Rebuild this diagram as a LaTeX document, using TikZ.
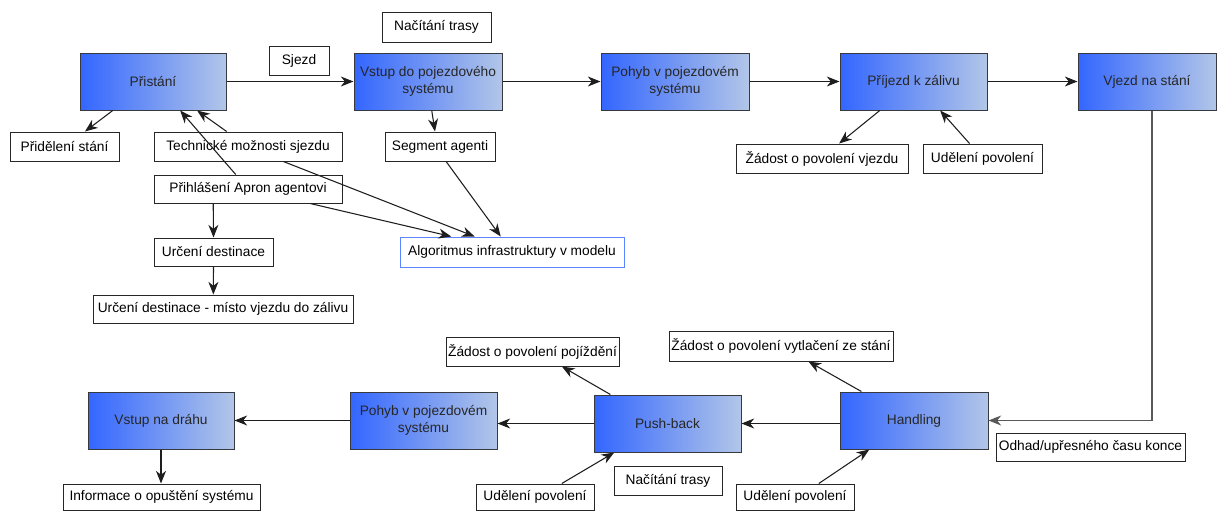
\documentclass[tikz,border=0pt]{standalone}
\usepackage{fontspec}
\setmainfont{Liberation Sans}
\usetikzlibrary{arrows.meta,calc}
\definecolor{bL}{RGB}{51,102,255}
\definecolor{bR}{RGB}{178,198,232}
\definecolor{bd}{RGB}{54,57,61}
\definecolor{ab}{RGB}{90,135,255}
\definecolor{ln}{RGB}{30,30,30}
\newcommand{\mkbox}[7]{%
  \pgfmathsetmacro\bw{(#5-#3)*0.75}%
  \pgfmathsetmacro\bh{(#6-#4)*0.75}%
  \node[#2, minimum width=\bw pt, minimum height=\bh pt] (#1) at ({(#3+#5)/2},{(#4+#6)/2}) {#7};%
}
\begin{document}
\begin{tikzpicture}[x=0.75pt,y=-0.75pt,
  font=\fontsize{10.3pt}{12.6pt}\selectfont,
  mainbox/.style={draw=bd, line width=0.75pt, left color=bL, right color=bR, text=black!85, align=center, inner sep=1pt},
  lbl/.style={draw=black!85, fill=white, line width=0.75pt, align=center, inner sep=1pt},
  algo/.style={draw=ab, fill=white, line width=0.75pt, inner sep=1pt},
  arr/.style={draw=ln, line width=0.8pt, -{Stealth[length=9.5pt,width=7.5pt,inset=3pt]}},
]
\useasboundingbox (0,0) rectangle (1217,511);

% top row
\mkbox{pr}{mainbox}{80}{53}{226}{110}{Přistání}
\mkbox{vs}{mainbox}{354}{53}{502}{110}{Vstup do pojezdového\\systému}
\mkbox{po}{mainbox}{601}{53}{749}{110}{Pohyb v pojezdovém\\systému}
\mkbox{pz}{mainbox}{840}{53}{987}{110}{Příjezd k zálivu}
\mkbox{vj}{mainbox}{1078}{53}{1216}{110}{Vjezd na stání}

% top labels
\mkbox{nt}{lbl}{382}{12}{491}{42}{Načítání trasy}
\mkbox{sj}{lbl}{269}{46}{329}{75}{Sjezd}
\mkbox{ps}{lbl}{10}{132}{119}{161}{Přidělení stání}
\mkbox{tm}{lbl}{154}{132}{342}{161}{Technické možnosti sjezdu}
\mkbox{pa}{lbl}{154}{175}{342}{203}{Přihlášení Apron agentovi}
\mkbox{ud}{lbl}{154}{238}{273}{266}{Určení destinace}
\mkbox{um}{lbl}{93}{295}{353}{323}{Určení destinace - místo vjezdu do zálivu}
\mkbox{sa}{lbl}{385}{132}{495}{161}{Segment agenti}
\mkbox{al}{algo}{400}{237}{624}{267}{Algoritmus infrastruktury v modelu}
\mkbox{zv}{lbl}{736}{144}{908}{173}{Žádost o povolení vjezdu}
\mkbox{up}{lbl}{923}{144}{1042}{173}{Udělení povolení}

% bottom row
\mkbox{vd}{mainbox}{88}{392}{234}{449}{Vstup na dráhu}
\mkbox{pb}{mainbox}{350}{392}{497}{449}{Pohyb v pojezdovém\\systému}
\mkbox{pu}{mainbox}{594}{395}{741}{452}{Push-back}
\mkbox{ha}{mainbox}{840}{392}{988}{449}{Handling}

% bottom labels
\mkbox{zj}{lbl}{446}{337}{619}{366}{Žádost o povolení pojíždění}
\mkbox{zs}{lbl}{669}{331}{893}{361}{Žádost o povolení vytlačení ze stání}
\mkbox{od}{lbl}{996}{433}{1185}{461}{Odhad/upřesného času konce}
\mkbox{nb}{lbl}{614}{466}{722}{495}{Načítání trasy}
\mkbox{ul}{lbl}{476}{484}{594}{510}{Udělení povolení}
\mkbox{ur}{lbl}{736}{484}{854}{510}{Udělení povolení}
\mkbox{io}{lbl}{63}{484}{260}{510}{Informace o opuštění systému}

% top arrows
\draw[arr] (pr.east) -- (vs.west);
\draw[arr] (vs.east) -- (po.west);
\draw[arr] (po.east) -- (pz.west);
\draw[arr] (pz.east) -- (vj.west);
\draw[arr] ($(pr.south west)!0.226!(pr.south east)$) -- ($(ps.north west)!0.686!(ps.north east)$);
\draw[arr] ($(tm.north west)!0.387!(tm.north east)$) -- ($(pr.south west)!0.8!(pr.south east)$);
\draw[arr] ($(pa.north west)!0.435!(pa.north east)$) -- ($(pr.south west)!0.685!(pr.south east)$);
\draw[arr] ($(pa.south west)!0.316!(pa.south east)$) -- (ud.north);
\draw[arr] (ud.south) -- ($(um.north west)!0.463!(um.north east)$);
\draw[arr] ($(tm.south west)!0.687!(tm.south east)$) -- ($(al.north west)!0.334!(al.north east)$);
\draw[arr] ($(pa.south west)!0.829!(pa.south east)$) -- ($(al.north west)!0.23!(al.north east)$);
\draw[arr] ($(sa.south west)!0.555!(sa.south east)$) -- ($(al.north west)!0.45!(al.north east)$);
\draw[arr] ($(vs.south west)!0.525!(vs.south east)$) -- ($(sa.north west)!0.455!(sa.north east)$);
\draw[arr] ($(pz.south west)!0.272!(pz.south east)$) -- ($(zv.north west)!0.599!(zv.north east)$);
\draw[arr] ($(up.north west)!0.392!(up.north east)$) -- ($(pz.south west)!0.68!(pz.south east)$);

% link down to handling
\draw[arr, draw=black!65] ($(vj.south west)!0.536!(vj.south east)$) |- (ha.east);

% bottom arrows
\draw[arr] (pu.east -| ha.west) -- (pu.east);
\draw[arr] (pu.west) -- (pu.west -| pb.east);
\draw[arr] (pb.west) -- (vd.east);
\draw[arr] (vd.south) -- (vd.south |- io.north);
\draw[arr] ($(ha.north west)!0.147!(ha.north east)$) -- ($(zs.south west)!0.622!(zs.south east)$);
\draw[arr] ($(ur.north west)!0.7!(ur.north east)$) -- ($(ha.south west)!0.2!(ha.south east)$);
\draw[arr] ($(pu.north west)!0.114!(pu.north east)$) -- ($(zj.south west)!0.669!(zj.south east)$);
\draw[arr] ($(ul.north west)!0.725!(ul.north east)$) -- ($(pu.south west)!0.14!(pu.south east)$);
\end{tikzpicture}
\end{document}
